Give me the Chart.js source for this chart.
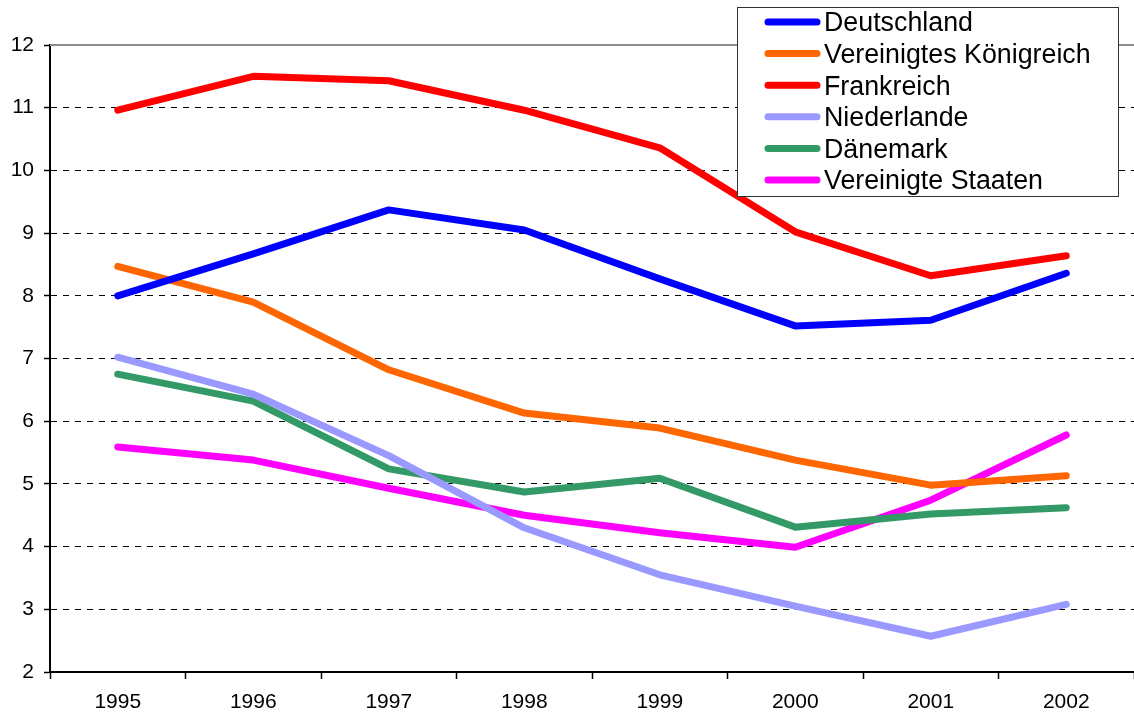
<!DOCTYPE html>
<html>
<head>
<meta charset="utf-8">
<script src="https://cdn.jsdelivr.net/npm/chart.js@4.4.0/dist/chart.umd.min.js"></script>
<style>
  html, body { margin: 0; padding: 0; background: #fff; }
  #wrap { width: 1134px; height: 717px; }
</style>
</head>
<body>
<div id="wrap"><canvas id="lineChart" width="1134" height="717"></canvas></div>
<script>
const years = ['1995', '1996', '1997', '1998', '1999', '2000', '2001', '2002'];
const deutschland = [8.0, 8.67, 9.37, 9.05, 8.27, 7.52, 7.61, 8.36];
const vereinigtesKoenigreich = [8.47, 7.9, 6.82, 6.13, 5.89, 5.38, 4.98, 5.13];
const frankreich = [10.96, 11.5, 11.43, 10.96, 10.36, 9.02, 8.32, 8.64];
const niederlande = [7.02, 6.43, 5.45, 4.3, 3.55, 3.05, 2.57, 3.08];
const daenemark = [6.75, 6.32, 5.24, 4.87, 5.09, 4.31, 4.52, 4.62];
const vereinigteStaaten = [5.59, 5.38, 4.93, 4.5, 4.22, 3.99, 4.74, 5.78];
const yTicks = [2, 3, 4, 5, 6, 7, 8, 9, 10, 11, 12];

const fontFamily = '"Liberation Sans", Arial, sans-serif';

function series(label, data, color) {
  return {
    label: label,
    data: data,
    borderColor: color,
    backgroundColor: color,
    borderWidth: 7,
    borderCapStyle: 'round',
    borderJoinStyle: 'round',
    pointRadius: 0,
    tension: 0,
    fill: false
  };
}

// top gray border line of the plot area
const topLine = {
  id: 'topLine',
  beforeDatasetsDraw(chart) {
    const { ctx, chartArea } = chart;
    ctx.save();
    ctx.strokeStyle = '#8c8c8c';
    ctx.lineWidth = 2;
    ctx.beginPath();
    ctx.moveTo(chartArea.left, chartArea.top);
    ctx.lineTo(chartArea.right, chartArea.top);
    ctx.stroke();
    ctx.restore();
  }
};

// boxed legend in the upper right
const boxLegend = {
  id: 'boxLegend',
  afterDraw(chart) {
    const ctx = chart.ctx;
    const x = 737, y = 7, w = 381, h = 189;
    ctx.save();
    ctx.fillStyle = '#fff';
    ctx.fillRect(x, y, w, h);
    ctx.strokeStyle = '#333';
    ctx.lineWidth = 1;
    ctx.strokeRect(x + 0.5, y + 0.5, w, h);
    ctx.font = '26.8px ' + fontFamily;
    ctx.textBaseline = 'middle';
    ctx.textAlign = 'left';
    chart.data.datasets.forEach((ds, i) => {
      const ly = 22 + i * 31.6;
      ctx.strokeStyle = ds.borderColor;
      ctx.lineWidth = 7;
      ctx.lineCap = 'round';
      ctx.beginPath();
      ctx.moveTo(768, ly);
      ctx.lineTo(817, ly);
      ctx.stroke();
      ctx.fillStyle = '#000';
      ctx.fillText(ds.label, 824, ly + 2);
    });
    ctx.restore();
  }
};

new Chart(document.getElementById('lineChart').getContext('2d'), {
  type: 'line',
  data: {
    labels: years,
    datasets: [
      series('Deutschland', deutschland, '#0000ff'),
      series('Vereinigtes Königreich', vereinigtesKoenigreich, '#ff6600'),
      series('Frankreich', frankreich, '#ff0000'),
      series('Niederlande', niederlande, '#9999ff'),
      series('Dänemark', daenemark, '#339966'),
      series('Vereinigte Staaten', vereinigteStaaten, '#ff00ff')
    ]
  },
  options: {
    responsive: false,
    animation: false,
    layout: { padding: { top: 45, right: 0, left: 0, bottom: 0 } },
    plugins: {
      legend: { display: false },
      tooltip: { enabled: false }
    },
    scales: {
      x: {
        offset: true,
        grid: {
          offset: true,
          drawOnChartArea: false,
          drawTicks: true,
          tickLength: 7,
          tickColor: '#000',
          tickWidth: 1.5
        },
        border: { color: '#000', width: 2 },
        ticks: {
          color: '#000',
          font: { family: fontFamily, size: 21 },
          padding: 11,
          maxRotation: 0
        },
        afterFit(scale) { scale.height = 45; }
      },
      y: {
        min: 2,
        max: 12,
        afterBuildTicks(scale) {
          scale.ticks = yTicks.map(v => ({ value: v }));
        },
        grid: {
          color: ctx => (ctx.tick && (ctx.tick.value === 12 || ctx.tick.value === 2)) ? 'rgba(0,0,0,0)' : '#000',
          lineWidth: 1,
          tickLength: 6,
          tickColor: '#000',
          tickWidth: 1.5
        },
        border: { color: '#000', width: 2, dash: [6, 6] },
        ticks: {
          color: '#000',
          font: { family: fontFamily, size: 21 },
          padding: 10
        },
        afterFit(scale) { scale.width = 50; }
      }
    }
  },
  plugins: [topLine, boxLegend]
});
</script>
</body>
</html>
